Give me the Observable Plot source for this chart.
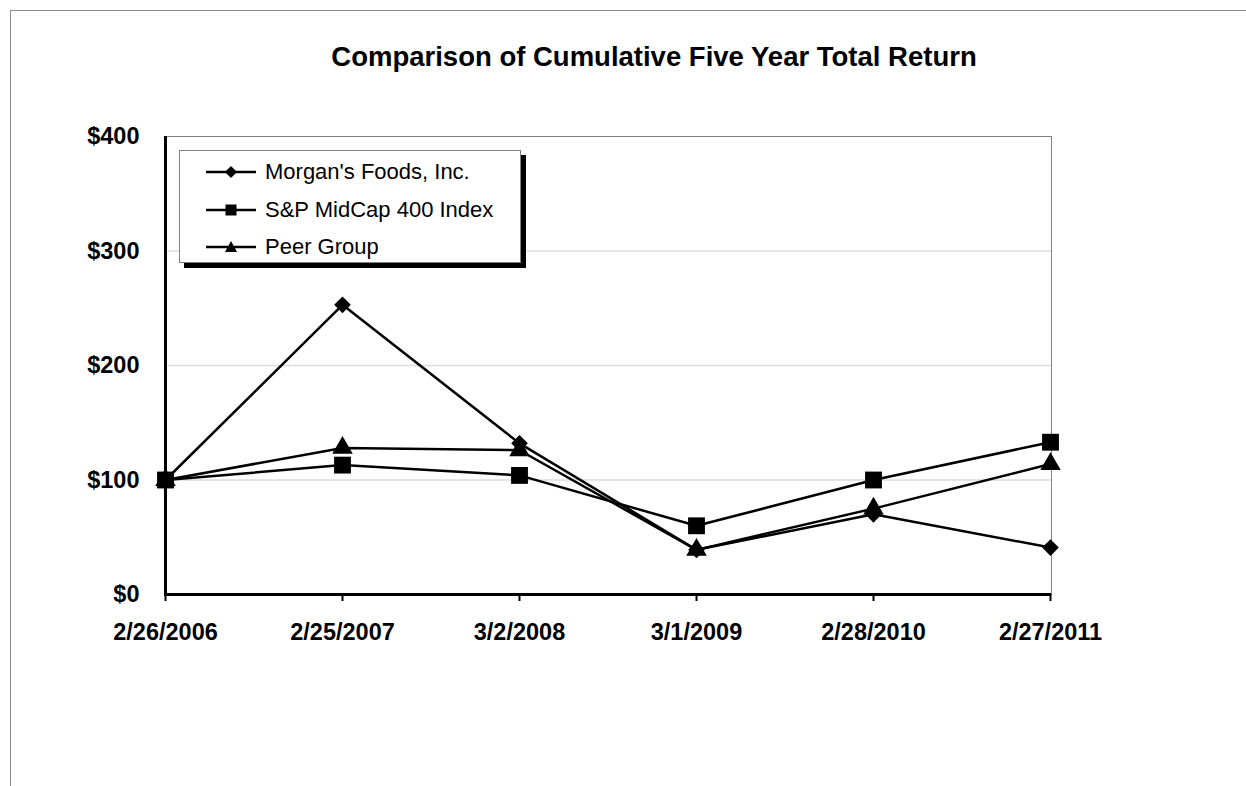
<!DOCTYPE html>
<html>
<head>
<meta charset="utf-8">
<script src="https://cdn.jsdelivr.net/npm/d3@7"></script>
<script src="https://cdn.jsdelivr.net/npm/@observablehq/plot@0.6"></script>
<style>
  html, body { margin: 0; padding: 0; background: #fff; }
  body { width: 1246px; height: 786px; overflow: hidden; position: relative;
         font-family: "Liberation Sans", Arial, sans-serif; color: #000; }
  #frame { position: absolute; left: 10px; top: 10px; width: 1400px; height: 1000px;
           border: 1px solid #8c8c8c; box-sizing: border-box; }
  #chart { position: absolute; left: 0; top: 0; }
  #title { position: absolute; left: 654px; top: 43px; transform: translateX(-50%);
           white-space: nowrap; font-weight: bold; font-size: 27.5px; line-height: 27px; }
  #legend { position: absolute; left: 179px; top: 150px; width: 342px; height: 113px;
            box-sizing: border-box; border: 1px solid #808080; background: #fff;
            box-shadow: 5px 5px 0 #000; }
  .row { position: absolute; left: 0; height: 26px; display: flex; align-items: center;
         font-size: 22px; white-space: nowrap; }
  .row svg { margin-left: 26px; margin-right: 9px; }
</style>
</head>
<body>
<div id="frame"></div>
<div id="chart"></div>
<div id="title"></div>
<div id="legend"></div>
<script>
const title = "Comparison of Cumulative Five Year Total Return";
const dates = ["2/26/2006", "2/25/2007", "3/2/2008", "3/1/2009", "2/28/2010", "2/27/2011"];
const seriesNames = ["Morgan's Foods, Inc.", "S&P MidCap 400 Index", "Peer Group"];
const morgan = [100, 253, 132, 39, 70, 41];
const midcap = [100, 113, 104, 60, 100, 133];
const peer = [100, 128, 126, 39, 75, 114];
const yTicks = [0, 100, 200, 300, 400];

const seriesValues = [morgan, midcap, peer];
const symbols = ["diamond2", "square", "triangle"];
const radii = [7.5, 9.5, 7.6];

const rows = [];
seriesNames.forEach((name, i) => {
  dates.forEach((d, j) => rows.push({series: name, date: d, value: seriesValues[i][j]}));
});

const lineMarks = seriesNames.map(name =>
  Plot.line(rows.filter(r => r.series === name), {x: "date", y: "value", stroke: "#000", strokeWidth: 2.5})
);
const dotMarks = seriesNames.map((name, i) =>
  Plot.dot(rows.filter(r => r.series === name), {x: "date", y: "value", symbol: symbols[i], r: radii[i], fill: "#000", stroke: "none"})
);

const chart = Plot.plot({
  width: 1246,
  height: 786,
  marginLeft: 164,
  marginRight: 195,
  marginTop: 136,
  marginBottom: 192,
  style: {fontFamily: "'Liberation Sans', Arial, sans-serif", color: "#000", background: "transparent", overflow: "visible"},
  x: {type: "point", domain: dates, padding: 0, axis: null, label: null},
  y: {domain: [0, 400], axis: null, label: null},
  marks: [
    Plot.ruleY([100, 200, 300], {stroke: "#dcdcdc", strokeWidth: 1.5}),
    Plot.frame({stroke: "#808080", strokeWidth: 1}),
    Plot.axisY({ticks: yTicks, tickSize: 0, tickPadding: 25, tickFormat: d => "$" + d, fontSize: 23.5, fontWeight: "bold", label: null}),
    Plot.axisX({tickSize: 7, tickPadding: 22, strokeWidth: 2, fontSize: 23.5, fontWeight: "bold", label: null}),
    Plot.ruleX([dates[0]], {stroke: "#000", strokeWidth: 3}),
    Plot.ruleY([0], {stroke: "#000", strokeWidth: 3}),
    ...lineMarks,
    ...dotMarks
  ]
});
document.getElementById("chart").appendChild(chart);
document.getElementById("title").textContent = title;

// Legend
const legend = document.getElementById("legend");
const rowCenters = [21, 59, 96];
const legendShapes = [
  '<polygon points="25,4 31,10 25,16 19,10" fill="#000"/>',
  '<rect x="19.5" y="4.5" width="11" height="11" fill="#000"/>',
  '<polygon points="25,4 31,15 19,15" fill="#000"/>'
];
seriesNames.forEach((name, i) => {
  const row = document.createElement("div");
  row.className = "row";
  row.style.top = (rowCenters[i] - 13) + "px";
  row.innerHTML = '<svg width="50" height="20" viewBox="0 0 50 20"><line x1="0" y1="10" x2="50" y2="10" stroke="#000" stroke-width="2.5"/>' + legendShapes[i] + '</svg>';
  const span = document.createElement("span");
  span.textContent = name;
  row.appendChild(span);
  legend.appendChild(row);
});
</script>
</body>
</html>
